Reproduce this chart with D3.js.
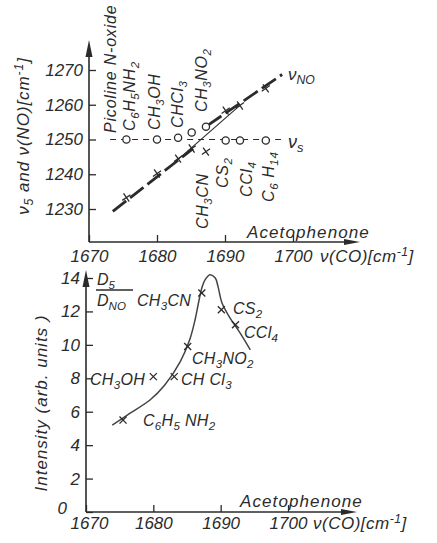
<!DOCTYPE html>
<html>
<head>
<meta charset="utf-8">
<script src="https://cdn.jsdelivr.net/npm/d3@7"></script>
<style>
  body { margin: 0; background: #fff; }
  svg text { font-family: "Liberation Sans", Arial, sans-serif; font-style: italic; fill: #2b2b2b; white-space: pre; }
</style>
</head>
<body>
<svg id="chart" width="437" height="543"></svg>
<script>
// Solvent data
const solvents  = ["C6H5NH2", "CH3OH", "CHCl3", "CH3NO2", "CH3CN", "CS2", "CCl4", "C6H14"];
const nuCO      = [1675.5, 1680.0, 1683.1, 1685.1, 1687.2, 1690.1, 1692.2, 1696.0];
const nuS       = [1250.0, 1250.0, 1250.5, 1252.0, 1253.7, 1249.7, 1249.7, 1249.7];
const nuNO      = [1233.3, 1240.2, 1244.5, 1247.4, 1246.5, 1258.3, 1259.8, 1264.7];
const intensity = [5.5, 8.1, 8.1, 9.9, 13.1, 12.1, 11.2, null];

// hand drawn lines in the upper plot  [nuCO, value]
const noFitA  = [[1673.5, 1229.3], [1685.3, 1247.4]];
const noFitB  = [[1687.4, 1254.0], [1698.4, 1268.7]];
const noThin  = [[1681.9, 1242.2], [1692.2, 1259.8]];
const sLine   = [[1673.1, 1250.0], [1698.5, 1250.0]];

// D5/DNO curve in the lower plot
const curveX = [1673.9, 1676.5, 1679.5, 1681.7, 1684.0, 1685.4, 1686.2, 1686.8, 1687.2, 1687.7, 1688.4, 1689.2, 1689.6, 1690.2, 1691.4, 1692.9, 1694.4];
const curveY = [5.2, 5.9, 6.7, 7.6, 9.0, 10.3, 11.5, 12.7, 13.4, 13.9, 14.2, 14.0, 13.5, 12.5, 11.6, 10.7, 9.7];

const xTicks    = [1670, 1680, 1690, 1700];
const topYTicks = [1230, 1240, 1250, 1260, 1270];
const botYTicks = [0, 2, 4, 6, 8, 10, 12, 14];

const ink = "#2b2b2b";
const svg = d3.select("#chart");

// scales
const xTop = d3.scaleLinear().domain([1670, 1700]).range([89, 293]);
const yTop = d3.scaleLinear().domain([1230, 1270]).range([209, 70]);
const xBot = d3.scaleLinear().domain([1670, 1700]).range([86, 288]);
const yBot = d3.scaleLinear().domain([0, 14]).range([512, 278]);

// text with sub/superscripts: parts = [[text, "n"|"b"|"p"], ...]
function rich(sel, parts, size) {
    let shift = 0;
    parts.forEach(([t, k]) => {
        const target = k === "b" ? 4 : (k === "p" ? -6 : 0);
        sel.append("tspan")
            .attr("dy", target - shift)
            .attr("font-size", k === "n" ? size : size * 0.72)
            .text(t);
        shift = target;
    });
}
// chemical formula: digits become subscripts
function chem(str) {
    return str.split(/(\d+)/).filter(s => s !== "").map(s => [s, /^\d+$/.test(s) ? "b" : "n"]);
}

function drawAxes(g, x, y, yTicks, base, tipX, tipY, padX) {
    const x0 = x.range()[0];
    // x axis with inward ticks
    g.append("g")
        .attr("class", "xaxis")
        .attr("transform", `translate(0,${base})`)
        .call(d3.axisBottom(x).tickValues(xTicks).tickSizeInner(-7).tickSizeOuter(0).tickPadding(padX)
            .tickFormat(d3.format("d")))
        .call(a => a.select(".domain").remove())
        .call(a => a.selectAll("line").attr("stroke", ink).attr("stroke-width", 1.3))
        .call(a => a.selectAll("text").attr("font-size", 17).attr("fill", ink).attr("font-family", null));
    // y axis
    g.append("g")
        .attr("class", "yaxis")
        .attr("transform", `translate(${x0},0)`)
        .call(d3.axisLeft(y).tickValues(yTicks).tickSizeInner(-7).tickSizeOuter(0).tickPadding(6)
            .tickFormat(d3.format("d")))
        .call(a => a.select(".domain").remove())
        .call(a => a.selectAll("line").attr("stroke", ink).attr("stroke-width", 1.3))
        .call(a => a.selectAll("text").attr("font-size", 17).attr("fill", ink).attr("font-family", null));
    // axis lines with arrows
    g.append("line").attr("x1", x0).attr("y1", base).attr("x2", tipX - 10).attr("y2", base)
        .attr("stroke", ink).attr("stroke-width", 1.6);
    g.append("line").attr("x1", x0).attr("y1", base).attr("x2", x0).attr("y2", tipY + 10)
        .attr("stroke", ink).attr("stroke-width", 1.6);
    g.append("path").attr("d", `M${tipX},${base}L${tipX - 16},${base - 3}L${tipX - 16},${base + 3}Z`).attr("fill", ink);
    g.append("path").attr("d", `M${x0},${tipY}L${x0 - 3.5},${tipY + 17}L${x0 + 3.5},${tipY + 17}Z`).attr("fill", ink);
}

const cross = d3.symbol().type(d3.symbolTimes).size(34);
const line = d3.line();

// ---------------- upper plot ----------------
const upper = svg.append("g");
drawAxes(upper, xTop, yTop, topYTicks, 242, 360, 40, 8);

const toTop = pts => pts.map(p => [xTop(p[0]), yTop(p[1])]);
upper.append("path").attr("d", line(toTop(sLine))).attr("fill", "none")
    .attr("stroke", ink).attr("stroke-width", 1.1).attr("stroke-dasharray", "6,5");
upper.append("path").attr("d", line(toTop(noThin))).attr("fill", "none")
    .attr("stroke", ink).attr("stroke-width", 1.1);
[noFitA, noFitB].forEach(seg => {
    upper.append("path").attr("d", line(toTop(seg))).attr("fill", "none")
        .attr("stroke", ink).attr("stroke-width", 2.8).attr("stroke-dasharray", "17,5");
});

upper.selectAll(".no").data(solvents).join("path")
    .attr("class", "no")
    .attr("d", cross)
    .attr("transform", (d, i) => `translate(${xTop(nuCO[i])},${yTop(nuNO[i])}) rotate(10)`)
    .attr("fill", "none").attr("stroke", ink).attr("stroke-width", 1.3);

upper.selectAll(".s").data(solvents).join("circle")
    .attr("class", "s")
    .attr("cx", (d, i) => xTop(nuCO[i]))
    .attr("cy", (d, i) => yTop(nuS[i]))
    .attr("r", 3.6)
    .attr("fill", "#fff").attr("stroke", ink).attr("stroke-width", 1.3);

// rotated solvent labels [text, baseline x, start y]
const topLabels = [
    ["C6H5NH2", 135, 131], ["CH3OH", 160, 130], ["CHCl3", 183, 128], ["CH3NO2", 207, 112],
    ["CH3CN", 208, 229], ["CS2", 228, 188], ["CCl4", 252, 197], ["C6 H14", 274, 202]
];
topLabels.forEach(([t, x, y]) => {
    const el = upper.append("text").attr("transform", `translate(${x},${y}) rotate(-90)`)
        .attr("letter-spacing", 0.6);
    rich(el, chem(t), 16);
});
upper.append("text").attr("transform", "translate(116,133) rotate(-90)")
    .attr("font-size", 16).attr("letter-spacing", 0.8).text("Picoline N-oxide");

rich(upper.append("text").attr("x", 288).attr("y", 80), [["ν", "n"], ["NO", "b"]], 17);
rich(upper.append("text").attr("x", 288).attr("y", 148), [["ν", "n"], ["s", "b"]], 18);

upper.append("text").attr("x", 247).attr("y", 238).attr("font-size", 17).attr("letter-spacing", 1.1).text("Acetophenone");
rich(upper.append("text").attr("x", 320).attr("y", 262).attr("letter-spacing", 0.5),
    [["ν(CO)[cm", "n"], ["-1", "p"], ["]", "n"]], 17);
rich(upper.append("text").attr("transform", "translate(29,136) rotate(-90)").attr("text-anchor", "middle")
    .attr("letter-spacing", 0.9),
    [["ν", "n"], ["5", "b"], [" and ν(NO)[cm", "n"], ["-1", "p"], ["]", "n"]], 17);

// ---------------- lower plot ----------------
const lower = svg.append("g");
drawAxes(lower, xBot, yBot, botYTicks, 512, 357, 270, 5);
// the "0" label sits a little further left and higher in the original
lower.select(".yaxis").selectAll(".tick text").filter(d => d === 0).attr("dx", -13).attr("dy", "0.1em");
lower.select(".xaxis").selectAll(".tick text").filter(d => d === 1670).attr("dx", 3);

lower.append("path")
    .attr("d", d3.line().curve(d3.curveCatmullRom.alpha(0.5))(curveX.map((v, i) => [xBot(v), yBot(curveY[i])])))
    .attr("fill", "none").attr("stroke", "#444").attr("stroke-width", 1.5);

lower.selectAll(".int").data(solvents.filter((d, i) => intensity[i] !== null)).join("path")
    .attr("class", "int")
    .attr("d", cross)
    .attr("transform", (d, i) => `translate(${xBot(nuCO[i])},${yBot(intensity[i])})`)
    .attr("fill", "none").attr("stroke", ink).attr("stroke-width", 1.3);

// D5 / DNO
rich(lower.append("text").attr("x", 97).attr("y", 285), [["D", "n"], ["5", "b"]], 16);
lower.append("line").attr("x1", 96).attr("x2", 133).attr("y1", 290).attr("y2", 290).attr("stroke", ink).attr("stroke-width", 1.3);
rich(lower.append("text").attr("x", 97).attr("y", 306), [["D", "n"], ["NO", "b"]], 16);

const botLabels = [
    ["CH3CN", 137, 306], ["CS2", 233, 314], ["CCl4", 244, 338], ["CH3NO2", 192, 364],
    ["CH Cl3", 181, 385], ["CH3OH", 90, 385], ["C6H5 NH2", 143, 426]
];
botLabels.forEach(([t, x, y]) => {
    const el = lower.append("text").attr("x", x).attr("y", y).attr("letter-spacing", 0.3);
    rich(el, chem(t), 16);
});

lower.append("text").attr("x", 240).attr("y", 507).attr("font-size", 17).attr("letter-spacing", 1.1).text("Acetophenone");
rich(lower.append("text").attr("x", 313).attr("y", 529).attr("letter-spacing", 0.5),
    [["ν(CO)[cm", "n"], ["-1", "p"], ["]", "n"]], 17);
lower.append("text").attr("transform", "translate(47,403) rotate(-90)").attr("text-anchor", "middle")
    .attr("font-size", 17).attr("letter-spacing", 1).text("Intensity (arb. units )");
</script>
</body>
</html>
